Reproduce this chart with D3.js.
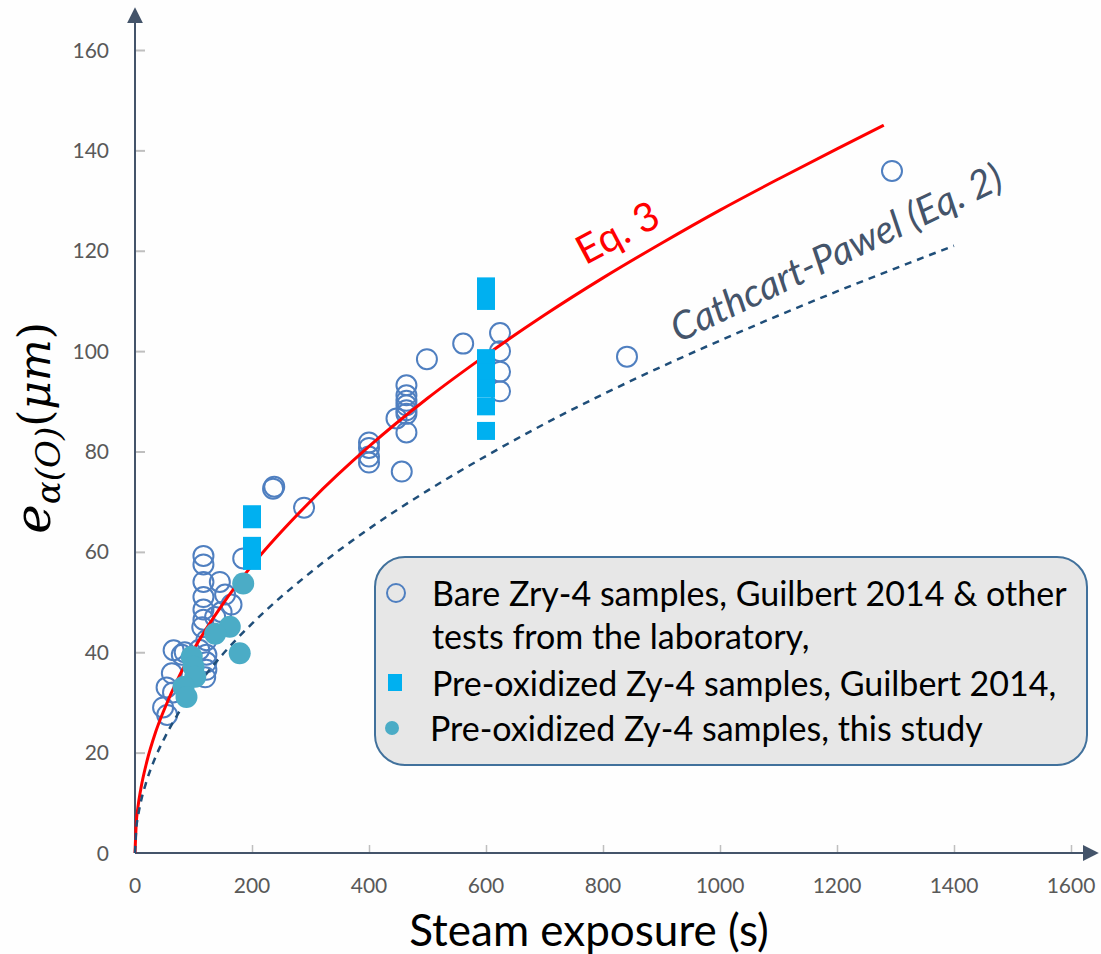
<!DOCTYPE html>
<html>
<head>
<meta charset="utf-8">
<script src="https://cdn.jsdelivr.net/npm/d3@7/dist/d3.min.js"></script>
<style>
  html, body { margin: 0; padding: 0; background: #fefefe; }
  svg { display: block; }
</style>
</head>
<body>
<script>
// ---------- data ----------
const xTicks = [0, 200, 400, 600, 800, 1000, 1200, 1400, 1600];
const yTicks = [0, 20, 40, 60, 80, 100, 120, 140, 160];

// Eq. 3 curve
const eq3T = [0, 2, 5, 10, 20, 35, 50, 75, 100, 150, 200, 300, 400, 500, 600, 700, 800, 900, 1000, 1100, 1200, 1280];
const eq3E = [0, 5.7, 9.1, 12.8, 18.1, 24.0, 28.6, 35.1, 40.5, 49.6, 57.3, 70.1, 81.0, 90.6, 99.2, 107.2, 114.6, 121.5, 128.1, 134.3, 140.3, 145.0];

// Cathcart-Pawel curve
const cpT = [0, 2, 5, 10, 20, 35, 50, 75, 100, 150, 200, 300, 400, 500, 600, 700, 800, 900, 1000, 1100, 1200, 1300, 1400];
const cpE = [0, 4.6, 7.2, 10.2, 14.4, 19.1, 22.8, 28.0, 32.3, 39.6, 45.7, 55.9, 64.6, 72.2, 79.1, 85.5, 91.4, 96.9, 102.1, 107.1, 111.9, 116.5, 121.0];

// Bare Zry-4 samples (open circles)
const bareT = [48, 55, 54, 65, 63, 80, 85, 66, 117, 117, 117, 117, 117, 117, 115, 145, 154, 165, 148, 137, 122, 122, 122, 120, 110, 122,
               185, 236, 238, 289, 400, 400, 400, 400, 447, 464, 464, 464, 464, 464, 464, 464, 456, 499, 561, 624, 624, 624, 624, 841, 1294];
const bareE = [29, 27.5, 33, 32, 35.8, 39.5, 40, 40.4, 59.2, 57.5, 54, 51, 48.5, 46.5, 45, 54, 51.5, 49.5, 48, 47, 39.5, 38, 36.5, 35, 40.5, 42.4,
               58.7, 72.6, 73, 68.8, 81.8, 80.7, 79, 77.8, 86.6, 93.2, 91.2, 90.1, 89.2, 88.2, 87.5, 83.8, 76, 98.4, 101.5, 103.6, 100, 95.9, 92, 98.9, 135.9];

// Pre-oxidized Zy-4, Guilbert 2014 (squares)
const guilT = [200, 200, 200, 200, 600, 600, 600, 600, 600, 600, 600];
const guilE = [67.5, 66.5, 61.2, 58.2, 112.9, 110, 98.6, 95.8, 92.6, 89.0, 84.1];

// Pre-oxidized Zy-4, this study (filled circles)
const studyT = [185, 162, 137, 179, 97, 100, 103, 83, 88];
const studyE = [53.7, 45.1, 43.7, 39.8, 39.1, 37.1, 35.1, 33.1, 31.1];

const legendLabels = [
  ["Bare Zry-4 samples, Guilbert 2014 & other", "tests from the laboratory,"],
  ["Pre-oxidized Zy-4 samples, Guilbert 2014,"],
  ["Pre-oxidized Zy-4 samples, this study"]
];

// ---------- layout ----------
const W = 1101, H = 954;
const m = { left: 135, top: 50, right: 30, bottom: 101 };
const axisCol = "#44546A";
const font = "Lato, 'Open Sans', sans-serif";

const svg = d3.select("body").append("svg").attr("width", W).attr("height", H);
svg.append("rect").attr("width", W).attr("height", H).attr("fill", "#fefefe");

const x = d3.scaleLinear().domain([0, 1600]).range([m.left, 1071]);
const y = d3.scaleLinear().domain([0, 160]).range([853, 50]);

// ticks (inside, gray)
const xAxis = d3.axisTop(x).tickValues(xTicks).tickSize(8).tickFormat("");
const gx = svg.append("g").attr("transform", `translate(0,${y(0)})`).call(xAxis);
gx.select(".domain").remove();
gx.selectAll(".tick line").attr("stroke", "#bfbfbf").attr("stroke-width", 1.5);

const yAxis = d3.axisRight(y).tickValues(yTicks.filter(d => d > 0)).tickSize(10).tickFormat("");
const gy = svg.append("g").attr("transform", `translate(${x(0)},0)`).call(yAxis);
gy.select(".domain").remove();
gy.selectAll(".tick line").attr("stroke", "#bfbfbf").attr("stroke-width", 2);

// tick labels
svg.append("g").selectAll("text").data(xTicks).join("text")
  .attr("x", d => x(d)).attr("y", 893)
  .attr("text-anchor", "middle")
  .attr("font-family", font).attr("font-size", 21).attr("fill", "#595959")
  .text(d => d);
svg.append("g").selectAll("text").data(yTicks).join("text")
  .attr("x", 109).attr("y", d => y(d) + 7.5)
  .attr("text-anchor", "end")
  .attr("font-family", font).attr("font-size", 21).attr("fill", "#595959")
  .text(d => d);

// axis lines with arrows
const defs = svg.append("defs");
defs.append("marker").attr("id", "arr").attr("viewBox", "0 0 10 10")
  .attr("refX", 2).attr("refY", 5).attr("markerWidth", 8).attr("markerHeight", 8)
  .attr("markerUnits", "strokeWidth").attr("orient", "auto")
  .append("path").attr("d", "M0,0 L10,5 L0,10 Z").attr("fill", axisCol);
svg.append("line").attr("x1", x(0)).attr("y1", y(0)).attr("x2", x(0)).attr("y2", 20)
  .attr("stroke", axisCol).attr("stroke-width", 2).attr("marker-end", "url(#arr)");
svg.append("line").attr("x1", x(0)).attr("y1", y(0)).attr("x2", 1086).attr("y2", y(0))
  .attr("stroke", axisCol).attr("stroke-width", 2).attr("marker-end", "url(#arr)");

// open circles
svg.append("g").selectAll("circle").data(d3.range(bareT.length)).join("circle")
  .attr("cx", i => x(bareT[i])).attr("cy", i => y(bareE[i])).attr("r", 10)
  .attr("fill", "none").attr("stroke", "#4F7FC0").attr("stroke-width", 2);

// curves
const line = d3.line().curve(d3.curveMonotoneX);
svg.append("path")
  .attr("d", line(eq3T.map((t, i) => [x(t), y(eq3E[i])])))
  .attr("fill", "none").attr("stroke", "#ff0000").attr("stroke-width", 3);
svg.append("path")
  .attr("d", line(cpT.map((t, i) => [x(t), y(cpE[i])])))
  .attr("fill", "none").attr("stroke", "#1F4E79").attr("stroke-width", 2.5)
  .attr("stroke-dasharray", "7,6");

// squares
const sq = 18;
svg.append("g").selectAll("rect").data(d3.range(guilT.length)).join("rect")
  .attr("x", i => x(guilT[i]) - sq / 2).attr("y", i => y(guilE[i]) - sq / 2)
  .attr("width", sq).attr("height", sq).attr("fill", "#00B0F0");

// filled circles
svg.append("g").selectAll("circle").data(d3.range(studyT.length)).join("circle")
  .attr("cx", i => x(studyT[i])).attr("cy", i => y(studyE[i])).attr("r", 11)
  .attr("fill", "#4BACC6");

// curve labels
svg.append("text").attr("transform", `translate(624,245) rotate(-28)`)
  .attr("text-anchor", "middle").attr("font-family", font).attr("font-size", 40)
  .attr("fill", "#ff0000").text("Eq. 3");
svg.append("text").attr("transform", `translate(842,265) rotate(-25.5)`)
  .attr("text-anchor", "middle").attr("font-family", font).attr("font-size", 39)
  .attr("font-style", "italic").attr("fill", axisCol).text("Cathcart-Pawel (Eq. 2)");

// legend box
svg.append("rect").attr("x", 375).attr("y", 557).attr("width", 712).attr("height", 208)
  .attr("rx", 30).attr("ry", 30).attr("fill", "#e7e7e7").attr("stroke", "#41719C").attr("stroke-width", 2);

svg.append("circle").attr("cx", 396).attr("cy", 593).attr("r", 9)
  .attr("fill", "none").attr("stroke", "#4F7FC0").attr("stroke-width", 2);
svg.append("rect").attr("x", 388).attr("y", 674).attr("width", 14).attr("height", 17).attr("fill", "#00B0F0");
svg.append("circle").attr("cx", 392).attr("cy", 728).attr("r", 7).attr("fill", "#4BACC6");

const legY = [[606, 649], [696], [741]];
const legX = [432, 432, 430];
legendLabels.forEach((lines, k) => {
  lines.forEach((s, j) => {
    svg.append("text").attr("x", legX[k]).attr("y", legY[k][j])
      .attr("font-family", font).attr("font-size", 34).attr("fill", "#000").text(s);
  });
});

// axis titles
svg.append("text").attr("x", 589).attr("y", 946).attr("text-anchor", "middle")
  .attr("font-family", font).attr("font-size", 44).attr("fill", "#000").text("Steam exposure (s)");

const yt = svg.append("text").attr("transform", "translate(50,428) rotate(-90)")
  .attr("text-anchor", "middle").attr("font-family", "'DejaVu Serif', serif").attr("fill", "#000");
yt.append("tspan").attr("font-size", 50).attr("font-style", "italic").text("e");
yt.append("tspan").attr("font-size", 34).attr("font-style", "italic").attr("dy", 10).text("α(O)");
yt.append("tspan").attr("font-size", 44).attr("dy", -10).text("(");
yt.append("tspan").attr("font-size", 44).attr("font-style", "italic").text("μm");
yt.append("tspan").attr("font-size", 44).text(")");
</script>
</body>
</html>
